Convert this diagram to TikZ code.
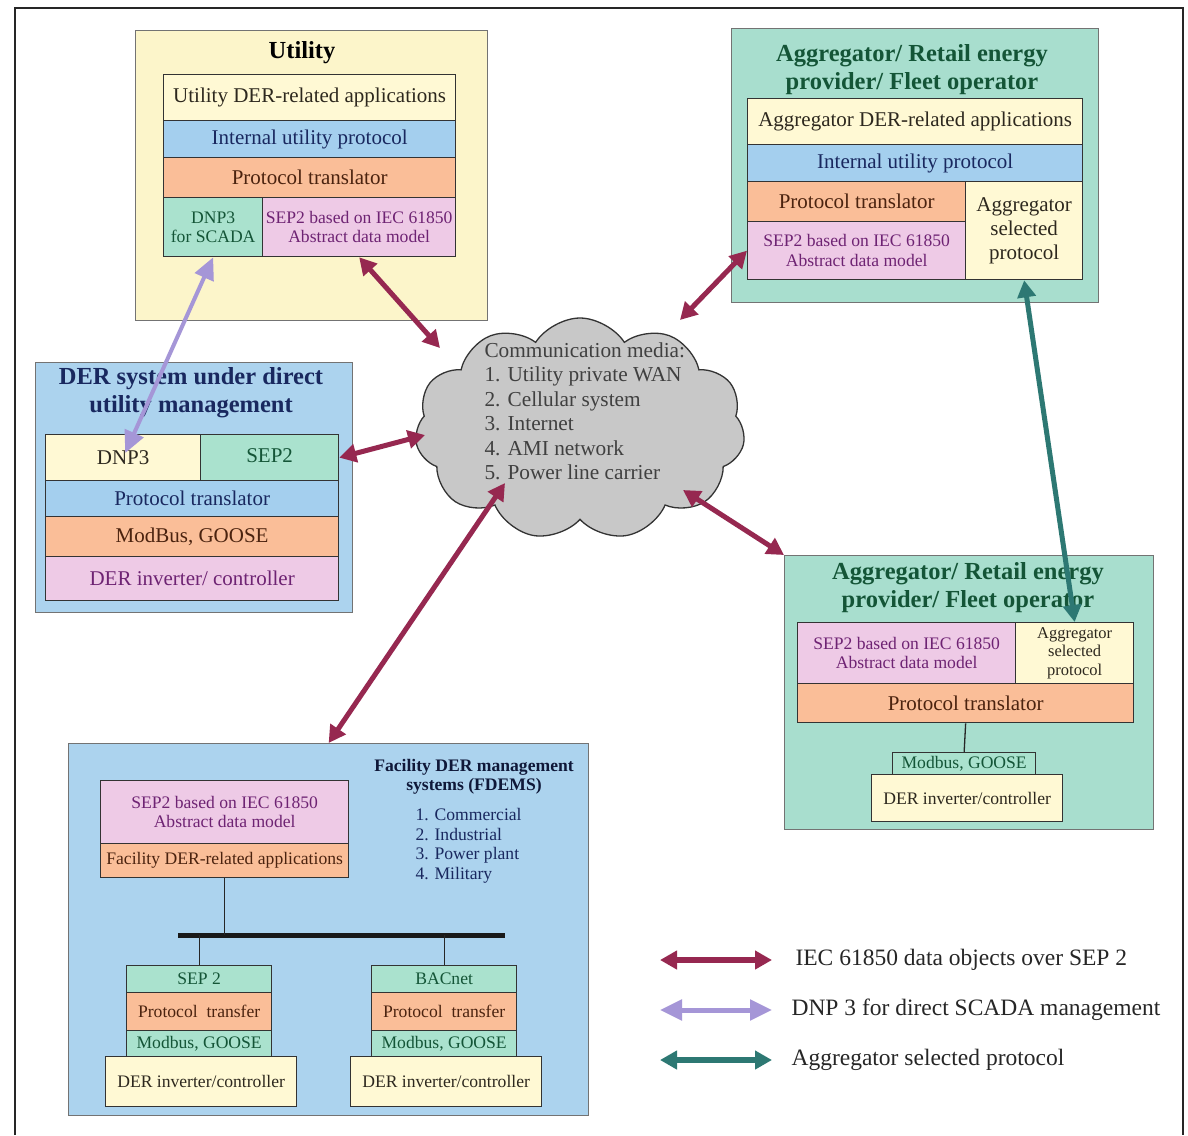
\documentclass[tikz,border=0pt]{standalone}
\usepackage{fontspec}
\setmainfont{Liberation Serif}
\usetikzlibrary{arrows.meta,shapes.symbols,calc}

\definecolor{cpale}{RGB}{252,245,202}
\definecolor{cyel}{RGB}{255,249,212}
\definecolor{cblue}{RGB}{164,207,238}
\definecolor{cbox}{RGB}{172,211,238}
\definecolor{corange}{RGB}{250,190,152}
\definecolor{cpink}{RGB}{238,202,230}
\definecolor{cteal}{RGB}{170,226,206}
\definecolor{caggbox}{RGB}{168,222,206}
\definecolor{ccloud}{RGB}{200,200,200}
\definecolor{cmaroon}{RGB}{150,40,80}
\definecolor{clav}{RGB}{165,150,215}
\definecolor{cgreenarrow}{RGB}{45,120,115}
\definecolor{tnavy}{RGB}{25,40,95}
\definecolor{tbrown}{RGB}{75,35,15}
\definecolor{tpurple}{RGB}{110,35,115}
\definecolor{tgreen}{RGB}{20,85,55}
\definecolor{tdark}{RGB}{45,40,30}

\newcommand{\rowfont}{\fontsize{21}{24}\selectfont}
\newcommand{\smallrowfont}{\fontsize{17.6}{19.5}\selectfont}
\newcommand{\tinyrowfont}{\fontsize{16.5}{18.5}\selectfont}
\newcommand{\titlefont}{\fontsize{24.5}{28}\selectfont\bfseries}

\tikzset{
  layer/.style={draw=black!80, line width=1.3pt, inner sep=0pt, align=center,
    anchor=north west, font=\rowfont},
  frame/.style={draw=black!55, line width=1.3pt, anchor=north west, inner sep=0pt},
  boxtitle/.style={font=\titlefont, align=center},
  iec/.style={draw=cmaroon, line width=5pt,
    {Triangle[length=17pt,width=18pt]}-{Triangle[length=17pt,width=18pt]}},
  dnp/.style={draw=clav, line width=4pt,
    {Triangle[length=22pt,width=20pt]}-{Triangle[length=22pt,width=20pt]}},
  aggsel/.style={draw=cgreenarrow, line width=5pt,
    {Triangle[length=17pt,width=18pt]}-{Triangle[length=17pt,width=18pt]}},
  stub/.style={draw=black!85, line width=1.3pt},
}

\begin{document}
\begin{tikzpicture}[x=1pt,y=-1pt]
  \useasboundingbox (0,0) rectangle (1188,1135);
  \fill[white] (0,0) rectangle (1188,1135);
  \draw[line width=2pt, black!85] (15,1135) -- (15,8) -- (1183,8) -- (1183,1135);

  % Utility
  \node[frame, fill=cpale, minimum width=352pt, minimum height=290pt] (util) at (135,30) {};
  \node[boxtitle] (utiltitle) at (302,53) {Utility};
  \node[layer, fill=cyel, minimum width=292pt, minimum height=46pt, text=tdark] (uapp) at (163,74) {Utility DER-related applications};
  \node[layer, fill=cblue, minimum width=292pt, minimum height=37pt, text=tnavy] (uint) at (163,120) {Internal utility protocol};
  \node[layer, fill=corange, minimum width=292pt, minimum height=40pt, text=tbrown] (utrans) at (163,157) {Protocol translator};
  \node[layer, fill=cteal, minimum width=99pt, minimum height=59pt, text=tgreen, font=\smallrowfont] (udnp) at (163,197) {DNP3\\for SCADA};
  \node[layer, fill=cpink, minimum width=193pt, minimum height=59pt, text=tpurple, font=\smallrowfont] (usep) at (262,197) {SEP2 based on IEC 61850\\Abstract data model};

  % Aggregator (top)
  \node[frame, fill=caggbox, minimum width=367pt, minimum height=274pt] (agg1) at (731,28) {};
  \node[boxtitle, text=tgreen] (agg1title) at (912,70) {Aggregator/ Retail energy\\provider/ Fleet operator};
  \node[layer, fill=cyel, minimum width=335pt, minimum height=46pt, text=tdark] (aapp) at (747,98) {Aggregator DER-related applications};
  \node[layer, fill=cblue, minimum width=335pt, minimum height=37pt, text=tnavy] (aint) at (747,144) {Internal utility protocol};
  \node[layer, fill=corange, minimum width=218pt, minimum height=40pt, text=tbrown] (atrans) at (747,181) {Protocol translator};
  \node[layer, fill=cpink, minimum width=218pt, minimum height=58pt, text=tpurple, font=\smallrowfont] (asep) at (747,221) {SEP2 based on IEC 61850\\Abstract data model};
  \node[layer, fill=cyel, minimum width=117pt, minimum height=98pt, text=tdark] (asel) at (965,181) {Aggregator\\selected\\protocol};

  % DER system under direct utility management
  \node[frame, fill=cbox, minimum width=317pt, minimum height=250pt] (der) at (35,362) {};
  \node[boxtitle, text=tnavy] (dertitle) at (191,393) {DER system under direct\\utility management};
  \node[layer, fill=cyel, minimum width=155pt, minimum height=46pt, text=tdark] (ddnp) at (45,434) {\raisebox{-5pt}{DNP3}};
  \node[layer, fill=cteal, minimum width=138pt, minimum height=46pt, text=tgreen] (dsep) at (200,434) {\raisebox{4pt}{SEP2}};
  \node[layer, fill=cblue, minimum width=293pt, minimum height=36pt, text=tnavy] (dtrans) at (45,480) {Protocol translator};
  \node[layer, fill=corange, minimum width=293pt, minimum height=40pt, text=tbrown] (dmod) at (45,516) {ModBus, GOOSE};
  \node[layer, fill=cpink, minimum width=293pt, minimum height=44pt, text=tpurple] (dinv) at (45,556) {DER inverter/ controller};

  % Communication media
  \node[cloud, cloud puffs=11, cloud puff arc=115, cloud ignores aspect, draw=black!80,
    line width=1.3pt, fill=ccloud, minimum width=330pt, minimum height=222pt,
    inner sep=0pt] (media) at (580,429) {};
  \node[anchor=north west, align=left, font=\fontsize{21.3}{24.5}\selectfont, text=black!75] (medialist) at (481,339)
    {Communication media:\\1. Utility private WAN\\2. Cellular system\\3. Internet\\4. AMI network\\5. Power line carrier};

  % Aggregator (bottom)
  \node[frame, fill=caggbox, minimum width=369pt, minimum height=274pt] (agg2) at (784,555) {};
  \node[boxtitle, text=tgreen] (agg2title) at (968,588) {Aggregator/ Retail energy\\provider/ Fleet operator};
  \node[layer, fill=cpink, minimum width=218pt, minimum height=61pt, text=tpurple, font=\smallrowfont] (bsep) at (797,622) {SEP2 based on IEC 61850\\Abstract data model};
  \node[layer, fill=cyel, minimum width=118pt, minimum height=61pt, text=tdark, font=\tinyrowfont] (bsel) at (1015,622) {Aggregator\\selected\\protocol};
  \node[layer, fill=corange, minimum width=336pt, minimum height=39pt, text=tbrown] (btrans) at (797,683) {Protocol translator};
  \node[layer, fill=cteal, minimum width=143pt, minimum height=22pt, text=tgreen, font=\smallrowfont] (bmod) at (892,752) {Modbus, GOOSE};
  \node[layer, fill=cyel, minimum width=191pt, minimum height=47pt, text=tdark, font=\smallrowfont] (binv) at (871,774) {DER inverter/controller};
  \draw[stub] (btrans.south) -- (bmod.north);

  % Facility DER management systems
  \node[frame, fill=cbox, minimum width=520pt, minimum height=372pt] (fac) at (68,743) {};
  \node[font=\smallrowfont\bfseries, align=center, text=tnavy!60!black] (factitle) at (474,777) {Facility DER management\\systems (FDEMS)};
  \node[anchor=north west, align=left, font=\smallrowfont, text=tnavy] (faclist) at (412,805)
    {1. Commercial\\2. Industrial\\3. Power plant\\4. Military};
  \node[layer, fill=cpink, minimum width=248pt, minimum height=63pt, text=tpurple, font=\smallrowfont] (fsep) at (100,780) {SEP2 based on IEC 61850\\Abstract data model};
  \node[layer, fill=corange, minimum width=248pt, minimum height=34pt, text=tbrown, font=\smallrowfont] (fapp) at (100,843) {Facility DER-related applications};
  \node[layer, fill=cteal, minimum width=145pt, minimum height=27pt, text=tgreen, font=\smallrowfont] (fsepa) at (126,965) {SEP 2};
  \node[layer, fill=corange, minimum width=145pt, minimum height=38pt, text=tbrown, font=\smallrowfont] (ftransa) at (126,992) {Protocol\ \ transfer};
  \node[layer, fill=cteal, minimum width=145pt, minimum height=26pt, text=tgreen, font=\smallrowfont] (fmoda) at (126,1030) {Modbus, GOOSE};
  \node[layer, fill=cyel, minimum width=191pt, minimum height=50pt, text=tdark, font=\smallrowfont] (finva) at (105,1056) {DER inverter/controller};
  \node[layer, fill=cteal, minimum width=145pt, minimum height=27pt, text=tgreen, font=\smallrowfont] (fbac) at (371,965) {BACnet};
  \node[layer, fill=corange, minimum width=145pt, minimum height=38pt, text=tbrown, font=\smallrowfont] (ftransb) at (371,992) {Protocol\ \ transfer};
  \node[layer, fill=cteal, minimum width=145pt, minimum height=26pt, text=tgreen, font=\smallrowfont] (fmodb) at (371,1030) {Modbus, GOOSE};
  \node[layer, fill=cyel, minimum width=191pt, minimum height=50pt, text=tdark, font=\smallrowfont] (finvb) at (350,1056) {DER inverter/controller};
  \coordinate (busl) at (178,935);
  \coordinate (busr) at (505,935);
  \draw[line width=5pt, black!90] (busl) -- (busr);
  \draw[stub] (fapp.south) -- (fapp.south |- busl);
  \draw[stub] (fsepa.north) -- (fsepa.north |- busl);
  \draw[stub] (fbac.north) -- (fbac.north |- busl);

  % connectors
  \draw[dnp, shorten >=5pt] (udnp.south) -- (ddnp.center);
  \draw[iec] (usep.south) -- ($(media.center)+(-140,-81)$);
  \draw[iec] (asep.west) -- ($(media.center)+(100,-109)$);
  \draw[iec] (dsep.east) -- ($(media.center)+(-155,6)$);
  \draw[iec] ($(media.center)+(-75,54)$) -- (fac.north);
  \draw[iec] ($(media.center)+(103,61)$) -- (agg2.north west);
  \draw[aggsel] (asel.south) -- (bsel.north);

  % legend
  \coordinate (lga) at (660,960);
  \coordinate (lgb) at (772,960);
  \coordinate (lgc) at (660,1010);
  \coordinate (lgd) at (772,1010);
  \coordinate (lge) at (660,1060);
  \coordinate (lgf) at (772,1060);
  \draw[iec, line width=6pt] (lga) -- (lgb);
  \draw[dnp, line width=5pt] (lgc) -- (lgd);
  \draw[aggsel, line width=6pt] (lge) -- (lgf);
  \node[anchor=west, font=\fontsize{23.5}{26}\selectfont, text=black!85] (lgtexta) at (792,960) {IEC 61850 data objects over SEP 2};
  \node[anchor=west, font=\fontsize{23.5}{26}\selectfont, text=black!85] (lgtextb) at (788,1010) {DNP 3 for direct SCADA management};
  \node[anchor=west, font=\fontsize{23.5}{26}\selectfont, text=black!85] (lgtextc) at (788,1060) {Aggregator selected protocol};
\end{tikzpicture}
\end{document}
